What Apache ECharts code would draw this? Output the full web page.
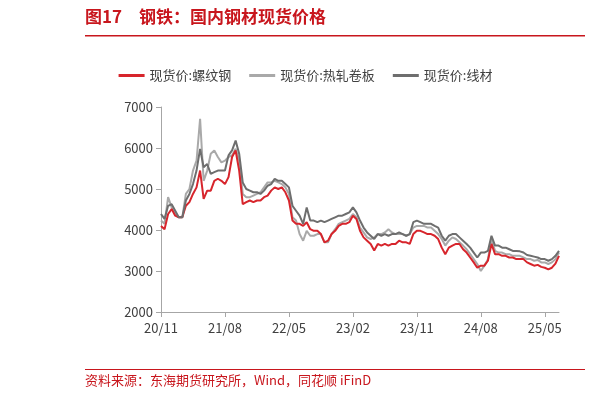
<!DOCTYPE html>
<html><head><meta charset="utf-8">
<script src="https://cdn.jsdelivr.net/npm/echarts@6/dist/echarts.min.js"></script>
<style>html,body{margin:0;padding:0;background:#fff}#c{width:611px;height:402px}</style>
</head><body><div id="c"></div>
<script>
// half-monthly observations from 2020-11 to 2025-07
var startYear = 2020, startMonth = 11, nPoints = 113;
var categories = [];
for (var i = 0; i < nPoints; i++) {
  var m = startMonth - 1 + Math.floor(i / 2);
  var y = startYear + Math.floor(m / 12);
  var mm = (m % 12) + 1;
  categories.push(String(y).slice(2) + '/' + (mm < 10 ? '0' : '') + mm + (i % 2 ? 'b' : 'a'));
}
var rebar = [4100,4020,4390,4510,4350,4310,4310,4590,4680,4880,5040,5450,4760,4960,4960,5200,5250,5200,5120,5290,5780,5940,5450,4630,4680,4720,4680,4720,4720,4800,4840,4960,5040,5000,5040,4920,4720,4230,4150,4150,4100,4190,4020,3980,3980,3900,3700,3740,3900,3980,4100,4150,4150,4190,4350,4270,3980,3820,3740,3660,3500,3660,3620,3660,3620,3660,3660,3740,3700,3700,3660,3900,3980,3980,3940,3900,3900,3860,3780,3570,3410,3570,3620,3660,3660,3530,3450,3330,3210,3080,3130,3130,3250,3660,3410,3410,3370,3370,3330,3330,3290,3290,3290,3210,3170,3130,3150,3100,3080,3040,3080,3180,3370];
var hrc = [4230,4150,4800,4550,4390,4310,4310,4880,5000,5450,5690,6710,5200,5450,5860,5940,5780,5650,5690,5780,5820,5980,5690,4880,4800,4800,4840,4880,4920,5040,5160,5160,5200,5160,5120,5040,4880,4310,4230,3900,3740,3980,3860,3860,3900,3900,3700,3700,3900,4020,4150,4190,4230,4270,4390,4310,4060,3940,3820,3780,3820,3900,3900,3940,4020,3940,3900,3900,3900,3860,3900,4060,4100,4100,4100,4060,4060,3980,3900,3780,3620,3740,3820,3780,3700,3620,3530,3410,3290,3170,3000,3130,3290,3780,3490,3450,3450,3410,3410,3370,3370,3370,3330,3290,3290,3250,3270,3210,3210,3170,3210,3290,3450];
var wire = [4390,4270,4590,4630,4470,4310,4310,4720,4880,5120,5450,5980,5530,5610,5370,5410,5450,5450,5450,5820,5940,6180,5860,5160,5000,4960,4920,4920,4880,4960,5080,5120,5250,5200,5200,5120,5040,4590,4470,4350,4150,4550,4230,4230,4190,4230,4190,4230,4270,4310,4350,4350,4390,4430,4550,4430,4230,4060,3940,3860,3780,3900,3860,3900,3860,3900,3900,3940,3900,3860,3900,4190,4230,4190,4150,4150,4150,4100,4060,3860,3740,3860,3900,3900,3820,3740,3660,3570,3450,3330,3450,3450,3490,3860,3620,3620,3570,3570,3530,3490,3490,3480,3450,3390,3370,3350,3330,3290,3290,3250,3290,3370,3490];
var seriesNames = ['现货价:螺纹钢','现货价:热轧卷板','现货价:线材'];
var yTicks = {min:2000, max:7000, interval:1000};

var chart = echarts.init(document.getElementById('c'));
var font = '"Noto Sans CJK SC", sans-serif';
chart.setOption({
  animation:false,
  graphic:[
    {type:'text', left:85, top:8, style:{text:'图17　钢铁：国内钢材现货价格', fill:'#c8161d', font:'bold 17px '+font}},
    {type:'rect', shape:{x:85,y:35,width:500,height:1.5}, style:{fill:'#c8161d'}},
    {type:'rect', shape:{x:85,y:369,width:500,height:1}, style:{fill:'#c8161d'}},
    {type:'text', left:85, top:374, style:{text:'资料来源：东海期货研究所，Wind，同花顺 iFinD', fill:'#c8161d', font:'13px '+font}}
  ],
  legend:{top:64, left:'center', itemWidth:26, itemHeight:3, itemGap:18, icon:'rect',
    textStyle:{fontSize:13, color:'#404040', fontFamily:font}},
  grid:{left:161, right:52, top:107, bottom:90},
  xAxis:{type:'category', data:categories, boundaryGap:false,
    axisLine:{lineStyle:{color:'#a6a6a6'}},
    axisTick:{interval:function(i){return i%18===0;}, lineStyle:{color:'#a6a6a6'}},
    axisLabel:{interval:function(i){return i%18===0;}, formatter:function(v){return v.slice(0,5);}, color:'#404040', fontSize:13, fontFamily:font, margin:10}},
  yAxis:{type:'value', min:yTicks.min, max:yTicks.max, interval:yTicks.interval, splitLine:{show:false},
    axisLine:{show:true, lineStyle:{color:'#a6a6a6'}}, axisTick:{show:true, lineStyle:{color:'#a6a6a6'}},
    axisLabel:{color:'#404040', fontSize:13, fontFamily:font, formatter:function(v){return String(v);}}},
  series:[
    {name:seriesNames[0], type:'line', data:rebar, showSymbol:false, lineStyle:{width:2,color:'#d7252c'}, itemStyle:{color:'#d7252c'}, z:3},
    {name:seriesNames[1], type:'line', data:hrc, showSymbol:false, lineStyle:{width:2,color:'#a9a9a9'}, itemStyle:{color:'#a9a9a9'}, z:2},
    {name:seriesNames[2], type:'line', data:wire, showSymbol:false, lineStyle:{width:2,color:'#6e6e6e'}, itemStyle:{color:'#6e6e6e'}, z:4}
  ]
});
</script></body></html>
